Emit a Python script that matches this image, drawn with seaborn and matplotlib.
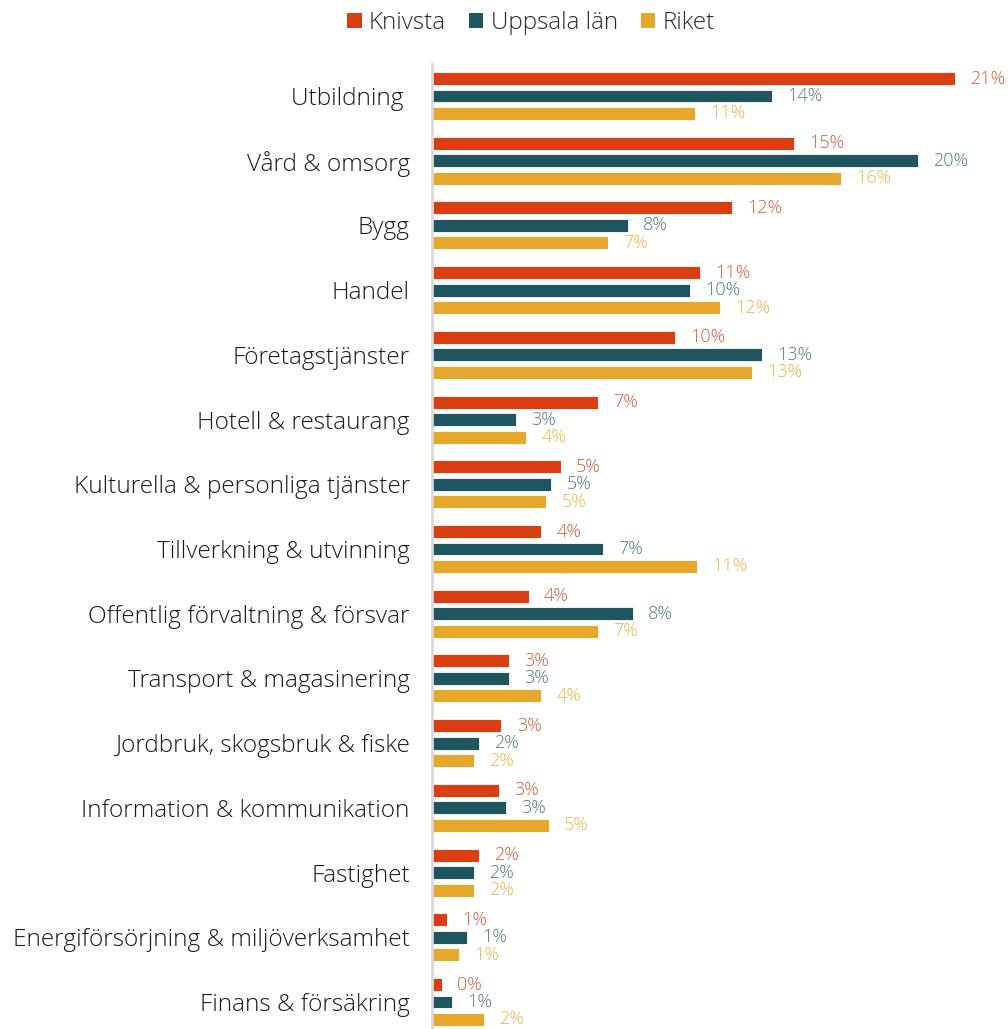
import matplotlib
matplotlib.use("Agg")
import matplotlib.pyplot as plt
from matplotlib.patches import Patch
import pandas as pd
import seaborn as sns

# Andel sysselsatta per bransch (procent)
branscher = [
    "Utbildning ",
    "Vård & omsorg",
    "Bygg",
    "Handel",
    "Företagstjänster",
    "Hotell & restaurang",
    "Kulturella & personliga tjänster",
    "Tillverkning & utvinning",
    "Offentlig förvaltning & försvar",
    "Transport & magasinering",
    "Jordbruk, skogsbruk & fiske",
    "Information & kommunikation",
    "Fastighet",
    "Energiförsörjning & miljöverksamhet",
    "Finans & försäkring",
]
omraden = ["Knivsta", "Uppsala län", "Riket"]
knivsta = [21.1, 14.6, 12.1, 10.8, 9.8, 6.7, 5.2, 4.4, 3.9, 3.1, 2.8, 2.7, 1.9, 0.6, 0.4]
uppsala_lan = [13.7, 19.6, 7.9, 10.4, 13.3, 3.4, 4.8, 6.9, 8.1, 3.1, 1.9, 3.0, 1.7, 1.4, 0.8]
riket = [10.6, 16.5, 7.1, 11.6, 12.9, 3.8, 4.6, 10.7, 6.7, 4.4, 1.7, 4.7, 1.7, 1.1, 2.1]

bar_colors = ["#D93F12", "#1F555E", "#E5A82A"]
label_colors = ["#E2583A", "#4F7C85", "#EDB445"]

df = pd.DataFrame({
    "Bransch": branscher * 3,
    "Område": [o for o in omraden for _ in branscher],
    "Andel": knivsta + uppsala_lan + riket,
})

sns.set_theme(style="white")
plt.rcParams["font.family"] = ["Open Sans", "DejaVu Sans"]
plt.rcParams["font.weight"] = "light"

W, H = 1008, 1029
fig = plt.figure(figsize=(W / 100, H / 100), dpi=100)
ax_left = 432 / W
ax_top = 64 / H
ax = fig.add_axes([ax_left, 0.0, 1 - ax_left, 1 - ax_top])

sns.barplot(
    data=df, y="Bransch", x="Andel", hue="Område", order=branscher,
    hue_order=omraden, palette=bar_colors, saturation=1, orient="h",
    width=0.81, gap=0.26, edgecolor="white", linewidth=0.6,
    legend=False, ax=ax,
)

for cont, col in zip(ax.containers, label_colors):
    vals = [b.get_width() for b in cont]
    ax.bar_label(cont, labels=[f"{v:.0f}%" for v in vals], padding=11,
                 color=col, fontsize=13)

px_per_pct = 24.8
ax.set_xlim(0, (W - 432) / px_per_pct)
spacing = 64.71
ax.set_ylim(14 + 27 / spacing, -32 / spacing)

ax.set_xlabel("")
ax.set_ylabel("")
ax.set_xticks([])
ax.tick_params(axis="y", length=0, pad=16, labelsize=17.6, labelcolor="#1A1A1A")
for side in ["top", "right", "bottom"]:
    ax.spines[side].set_visible(False)
ax.spines["left"].set_color("#D9D9D9")
ax.spines["left"].set_linewidth(2)

handles = [Patch(facecolor=c, edgecolor="none") for c in bar_colors]
fig.legend(handles, omraden, loc="center", bbox_to_anchor=(531 / W, 1 - 23 / H),
           ncol=3, frameon=False, fontsize=17.4, handlelength=0.6,
           handleheight=0.6, handletextpad=0.3, columnspacing=0.95,
           labelcolor="#2A2A2A")

fig.savefig("out.png", dpi=100)
